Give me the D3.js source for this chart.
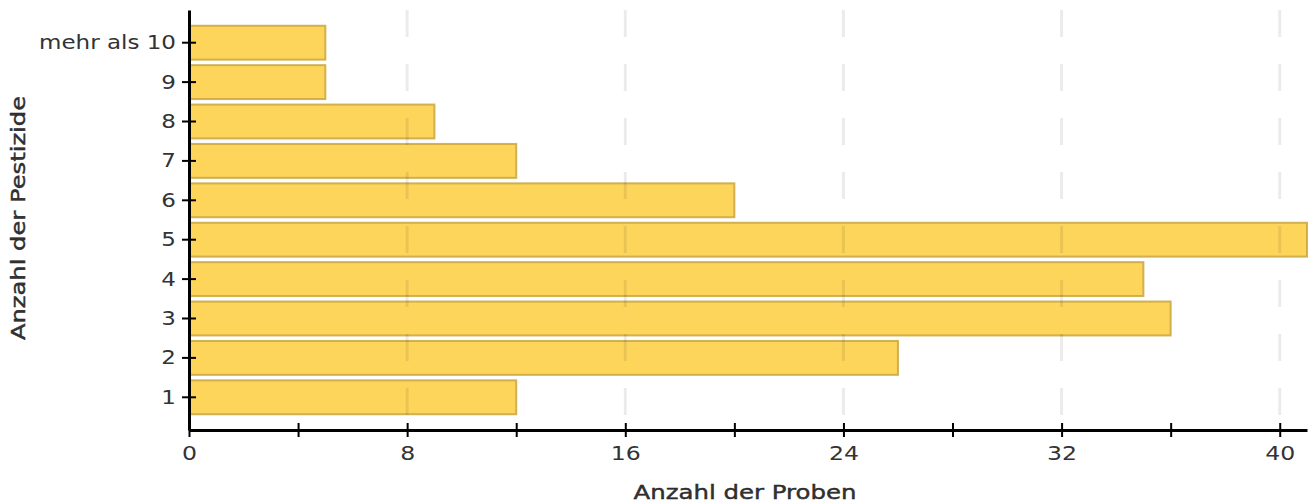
<!DOCTYPE html>
<html>
<head>
<meta charset="utf-8">
<script src="https://cdn.jsdelivr.net/npm/d3@7"></script>
<style>
  body { margin: 0; background: #fff; }
  svg { display: block; }
  text { font-family: "DejaVu Sans", sans-serif; fill: #333; }
</style>
</head>
<body>
<svg id="chart"></svg>
<script>
const categories = ["1", "2", "3", "4", "5", "6", "7", "8", "9", "mehr als 10"];
const counts = [12, 26, 36, 35, 41, 20, 12, 9, 5, 5];
const majorTicks = [0, 8, 16, 24, 32, 40];
const minorTicks = [4, 12, 20, 28, 36];

const width = 1313;
const height = 504;
const margin = { top: 10, right: 6, bottom: 74, left: 189 };
const innerW = width - margin.left - margin.right;
const innerH = height - margin.top - margin.bottom;

const data = categories.map((c, i) => ({ cat: c, value: counts[i] }));

const svg = d3.select("#chart").attr("width", width).attr("height", height);
const g = svg.append("g").attr("transform", `translate(${margin.left},${margin.top})`);

const x = d3.scaleLinear().domain([0, 41]).range([0, innerW]);
const y = d3.scaleBand()
  .domain(categories)
  .range([innerH, 0])
  .paddingInner(0.14)
  .paddingOuter(0.4);

// widen text a bit, the original font is broader than DejaVu
function stretch(sel, k) {
  sel.each(function () {
    const len = this.getComputedTextLength();
    d3.select(this).attr("textLength", len * k).attr("lengthAdjust", "spacingAndGlyphs");
  });
}

// bars
g.append("g")
  .selectAll("rect")
  .data(data)
  .join("rect")
  .attr("x", 1)
  .attr("y", (d) => y(d.cat))
  .attr("width", (d) => x(d.value) - 1)
  .attr("height", y.bandwidth())
  .attr("fill", "#fdd55b")
  .attr("stroke", "#c9a640")
  .attr("stroke-opacity", 0.85)
  .attr("stroke-width", 2);

// grid (drawn faintly over the bars)
g.append("g")
  .selectAll("line")
  .data(majorTicks.filter((t) => t > 0))
  .join("line")
  .attr("x1", (d) => x(d))
  .attr("x2", (d) => x(d))
  .attr("y1", 0)
  .attr("y2", innerH)
  .attr("stroke", "#000")
  .attr("stroke-opacity", 0.08)
  .attr("stroke-width", 3)
  .attr("stroke-dasharray", "27,27");

// x axis: minor ticks then labelled major ticks
const xAxisG = g.append("g").attr("transform", `translate(0,${innerH})`);
xAxisG.append("g")
  .call(d3.axisBottom(x).tickValues(minorTicks).tickFormat("").tickSize(7).tickSizeOuter(0))
  .call((a) => a.select(".domain").remove())
  .call((a) => a.selectAll(".tick line").attr("y1", -7).attr("stroke", "#000").attr("stroke-width", 2));
xAxisG.append("g")
  .call(d3.axisBottom(x).tickValues(majorTicks).tickSize(7).tickSizeOuter(0).tickPadding(9))
  .call((a) => a.select(".domain").attr("stroke", "#000").attr("stroke-width", 3))
  .call((a) => a.selectAll(".tick line").attr("y1", -7).attr("stroke", "#000").attr("stroke-width", 2))
  .call((a) => a.selectAll(".tick text").attr("font-size", 20).attr("font-family", "DejaVu Sans").attr("fill", "#333").call(stretch, 1.18));

// y axis
g.append("g")
  .call(d3.axisLeft(y).tickSize(7).tickSizeOuter(0).tickPadding(6))
  .call((a) => a.select(".domain").attr("stroke", "#000").attr("stroke-width", 3))
  .call((a) => a.selectAll(".tick line").attr("x1", 7).attr("stroke", "#000").attr("stroke-width", 2))
  .call((a) => a.selectAll(".tick text").attr("font-size", 20).attr("font-family", "DejaVu Sans").attr("fill", "#333").call(stretch, 1.15));

// axis titles
svg.append("text")
  .attr("x", margin.left + innerW / 2 - 3)
  .attr("y", 499)
  .attr("text-anchor", "middle")
  .attr("font-size", 20)
  .attr("fill", "#1a1a1a")
  .attr("stroke", "#1a1a1a")
  .attr("stroke-width", 0.4)
  .text("Anzahl der Proben")
  .call(stretch, 1.22);

svg.append("text")
  .attr("transform", `translate(25,${margin.top + innerH / 2 - 2}) rotate(-90)`)
  .attr("text-anchor", "middle")
  .attr("font-size", 20)
  .attr("fill", "#1a1a1a")
  .attr("stroke", "#1a1a1a")
  .attr("stroke-width", 0.4)
  .text("Anzahl der Pestizide")
  .call(stretch, 1.21);
</script>
</body>
</html>
